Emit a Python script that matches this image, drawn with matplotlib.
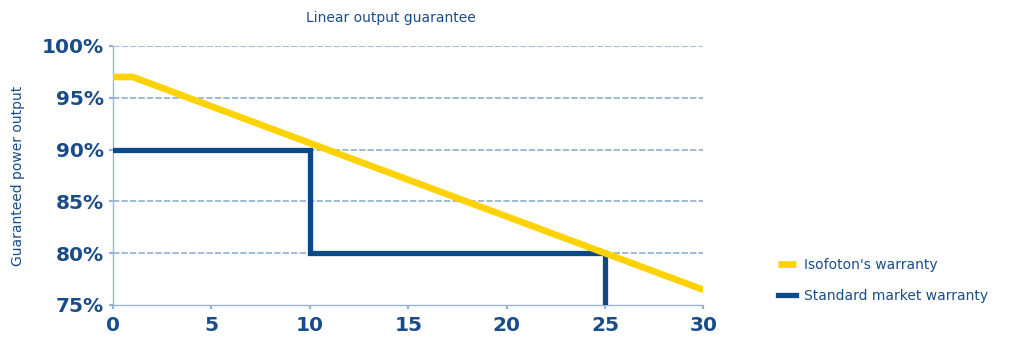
import numpy as np
import matplotlib
matplotlib.use('Agg')
import matplotlib.pyplot as plt

# warranty curves (year, guaranteed output %)
isofoton_years = [0, 1, 25, 30]
isofoton_output = [97, 97, 80, 76.46]
standard_years = [0, 10, 10, 25, 25]
standard_output = [90, 90, 80, 80, 75]

x_ticks = [0, 5, 10, 15, 20, 25, 30]
y_ticks = [75, 80, 85, 90, 95, 100]

yellow = '#FFD200'
navy = '#0B4A86'
text_blue = '#1A4C8A'
light_blue = '#97B5D3'

fig = plt.figure(figsize=(10.18, 3.4), dpi=100)
ax = fig.add_axes([0.111, 0.103, 0.58, 0.762])

ax.set_xlim(0, 30)
ax.set_ylim(75, 100)

for y in y_ticks[1:]:
    ax.axhline(y, color=light_blue, lw=1.3, ls=(0, (3.5, 1.2)), zorder=1)

ax.plot(standard_years, standard_output, color=navy, lw=3.8,
        solid_joinstyle='miter', label='Standard market warranty', zorder=3)
ax.plot(isofoton_years, isofoton_output, color=yellow, lw=4.8,
        solid_capstyle='butt', label="Isofoton's warranty", zorder=4)

ax.set_xticks(x_ticks)
ax.set_yticks(y_ticks)
ax.set_yticklabels([f'{v}%' for v in y_ticks])
ax.tick_params(axis='both', colors=light_blue, length=3, width=1.5,
               labelcolor=text_blue, labelsize=14.5)
ax.tick_params(axis='x', pad=5)
for lbl in ax.get_xticklabels() + ax.get_yticklabels():
    lbl.set_fontweight('bold')

for side in ['top', 'right']:
    ax.spines[side].set_visible(False)
for side in ['left', 'bottom']:
    ax.spines[side].set_color(light_blue)
    ax.spines[side].set_linewidth(1.0)

ax.set_title('Linear output guarantee', color=text_blue, fontsize=10,
             pad=17, x=0.47)
ax.set_ylabel('Guaranteed power output', color=text_blue, fontsize=10,
              labelpad=12)

handles, labels = ax.get_legend_handles_labels()
leg = fig.legend(handles[::-1], labels[::-1], loc='center left',
                 bbox_to_anchor=(0.752, 0.175), frameon=False, fontsize=10,
                 handlelength=1.3, handletextpad=0.6, labelspacing=1.2)
for t in leg.get_texts():
    t.set_color(text_blue)

fig.savefig('out.png', dpi=100)
